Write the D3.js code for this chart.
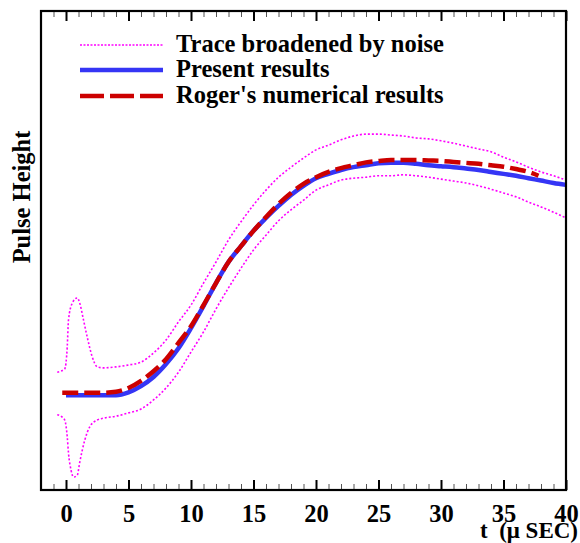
<!DOCTYPE html>
<html>
<head>
<meta charset="utf-8">
<script src="https://cdn.jsdelivr.net/npm/d3@7"></script>
<style>
  html, body { margin: 0; padding: 0; background: #fff; }
  svg { display: block; }
  text { font-family: "Liberation Serif", "Times New Roman", serif; font-weight: bold; fill: #000; }
</style>
</head>
<body>
<svg id="chart" width="580" height="543"></svg>
<script>
// ---- data ----
const xMajorTicks = [0, 5, 10, 15, 20, 25, 30, 35, 40];
const xMinorTicks = d3.range(-1, 40, 1).filter(v => v % 5 !== 0);

const presentT = d3.range(0, 41, 1);
const presentY = [19.8, 19.8, 19.8, 19.8, 19.8, 20.4, 21.7, 23.6, 26.3, 29.6,
                  33.8, 38.4, 43.2, 47.6, 50.9, 54.1, 56.8, 59.3, 61.6, 63.5,
                  65.1, 66.0, 66.8, 67.4, 67.8, 68.2, 68.3, 68.3, 68.1, 67.8,
                  67.6, 67.4, 67.1, 66.8, 66.4, 66.0, 65.6, 65.1, 64.6, 64.1, 63.7];

const rogerT = [-0.3, 0, 1, 2, 3, 4, 5, 6, 7, 8, 9, 10, 11, 12, 13, 14, 15, 16, 17, 18, 19,
                20, 21, 22, 23, 24, 25, 26, 27, 28, 29, 30, 31, 32, 33, 34, 35, 36, 37, 37.8];
const rogerY = [20.3, 20.3, 20.3, 20.3, 20.3, 20.5, 21.3, 22.8, 24.8, 27.3, 30.7,
                34.2, 38.6, 43.2, 47.6, 50.9, 54.1, 57.0, 59.7, 62.0, 63.9,
                65.3, 66.4, 67.2, 67.8, 68.4, 68.7, 68.9, 68.9, 68.9, 68.8,
                68.7, 68.5, 68.3, 68.1, 67.8, 67.5, 67.0, 66.4, 65.6];

const upperT = [-0.7, -0.1, 0.1, 0.2, 0.5, 0.9, 1.1, 1.4, 1.7, 2.1, 2.5, 3, 4, 5, 6, 7, 8, 9,
                10, 11, 12, 13, 14, 15, 16, 17, 18, 19, 20, 21, 22, 23, 24, 25, 26, 27, 28, 29,
                30, 31, 32, 33, 34, 35, 36, 37, 38, 39, 40];
const upperY = [24.6, 25.3, 29.9, 35.5, 39.0, 40.1, 39.0, 35.5, 31.9, 27.8, 25.7, 25.5, 25.7, 26.1,
                26.7, 28.6, 31.3, 35.1, 38.6, 43.2, 47.6, 52.2, 56.0, 59.5, 62.6, 65.3, 67.4, 69.3,
                71.0, 72.0, 73.1, 73.9, 74.3, 74.3, 74.1, 73.9, 73.5, 73.3, 72.9, 72.4, 71.8, 71.2,
                70.6, 69.5, 68.5, 67.4, 66.4, 65.6, 64.7];

const lowerT = [-0.7, -0.3, -0.1, 0.1, 0.2, 0.4, 0.6, 0.9, 1.1, 1.5, 1.9, 2.5, 3, 4, 5, 6, 7, 8, 9,
                10, 11, 12, 13, 14, 15, 16, 17, 18, 19, 20, 21, 22, 23, 24, 25, 26, 27, 28, 29,
                30, 31, 32, 33, 34, 35, 36, 37, 38, 39, 40];
const lowerY = [15.7, 15.2, 14.6, 11.1, 7.7, 4.2, 2.7, 3.1, 5.8, 10.4, 13.2, 14.6, 15.0, 15.4, 16.1,
                16.9, 18.8, 21.3, 24.6, 28.8, 33.0, 37.8, 42.2, 46.3, 50.1, 53.2, 56.2, 58.5, 60.5,
                62.6, 63.7, 64.7, 65.1, 65.3, 65.6, 65.6, 65.8, 65.6, 65.3, 64.9, 64.5, 64.1, 63.5,
                62.8, 62.0, 61.2, 60.1, 59.1, 58.0, 56.8];

const legendLabels = ["Trace broadened by noise", "Present results", "Roger's numerical results"];
const xLabel = "t\u00a0 (\u03bc SEC)";
const yLabel = "Pulse Height";

// ---- chart ----
const FS = "24.5px";
const svg = d3.select("#chart");
const L = 41, R = 566, T = 11, B = 490;
const x = d3.scaleLinear().domain([-2, 40]).range([L, R]);
const y = d3.scaleLinear().domain([0, 100]).range([B, T]);

const line = d3.line().x(d => x(d[0])).y(d => y(d[1])).curve(d3.curveMonotoneX);
const zip = (a, b) => a.map((v, i) => [v, b[i]]);

const styles = {
  noise: { color: "#ff00ff", width: 1.6, dash: "2,2" },
  present: { color: "#3535f5", width: 4.5, dash: null },
  roger: { color: "#cc0000", width: 4.5, dash: "16,6" }
};

const plot = svg.append("g");
function drawLine(data, st) {
  const p = plot.append("path").datum(data)
    .attr("d", line).attr("fill", "none")
    .attr("stroke", st.color).attr("stroke-width", st.width);
  if (st.dash) p.attr("stroke-dasharray", st.dash);
}
drawLine(zip(upperT, upperY), styles.noise);
drawLine(zip(lowerT, lowerY), styles.noise);
drawLine(zip(presentT, presentY), styles.present);
drawLine(zip(rogerT, rogerY), styles.roger);

// axes: bottom (labels + major), minor, top mirrored
const bottomMajor = svg.append("g").attr("transform", `translate(0,${B})`)
  .call(d3.axisBottom(x).tickValues(xMajorTicks).tickSize(-10).tickPadding(15).tickFormat(d3.format("d")));
bottomMajor.select(".domain").remove();
bottomMajor.selectAll(".tick line").attr("stroke", "#000").attr("stroke-width", 2);
bottomMajor.selectAll(".tick text").style("font-size", FS)
  .style("font-family", "'Liberation Serif', serif").style("font-weight", "bold");

const bottomMinor = svg.append("g").attr("transform", `translate(0,${B})`)
  .call(d3.axisBottom(x).tickValues(xMinorTicks).tickSize(-6).tickFormat(""));
bottomMinor.select(".domain").remove();
bottomMinor.selectAll(".tick line").attr("stroke", "#555").attr("stroke-width", 1);

const topMajor = svg.append("g").attr("transform", `translate(0,${T})`)
  .call(d3.axisTop(x).tickValues(xMajorTicks).tickSize(-10).tickFormat(""));
topMajor.select(".domain").remove();
topMajor.selectAll(".tick line").attr("stroke", "#000").attr("stroke-width", 2);

const topMinor = svg.append("g").attr("transform", `translate(0,${T})`)
  .call(d3.axisTop(x).tickValues(xMinorTicks).tickSize(-6).tickFormat(""));
topMinor.select(".domain").remove();
topMinor.selectAll(".tick line").attr("stroke", "#555").attr("stroke-width", 1);

// frame
svg.append("rect").attr("x", L).attr("y", T).attr("width", R - L).attr("height", B - T)
  .attr("fill", "none").attr("stroke", "#000").attr("stroke-width", 2.2);

// axis titles
svg.append("text").attr("x", 578).attr("y", 538).attr("text-anchor", "end")
  .style("font-size", "23px").text(xLabel);
svg.append("text").attr("transform", `translate(30,197) rotate(-90)`)
  .attr("text-anchor", "middle").style("font-size", FS).text(yLabel);

// legend
const legendY = [45, 70, 96];
const legendStyles = [styles.noise, styles.present, styles.roger];
legendLabels.forEach((lab, i) => {
  const st = legendStyles[i];
  const ln = svg.append("line").attr("x1", 80).attr("x2", 163)
    .attr("y1", legendY[i]).attr("y2", legendY[i])
    .attr("stroke", st.color).attr("stroke-width", i === 0 ? 1.6 : 4.5);
  if (i === 0) ln.attr("stroke-dasharray", "2,1.5");
  if (i === 2) ln.attr("stroke-dasharray", "24,6");
  svg.append("text").attr("x", 176).attr("y", legendY[i]).attr("dy", "0.3em")
    .style("font-size", FS).text(lab);
});
</script>
</body>
</html>
